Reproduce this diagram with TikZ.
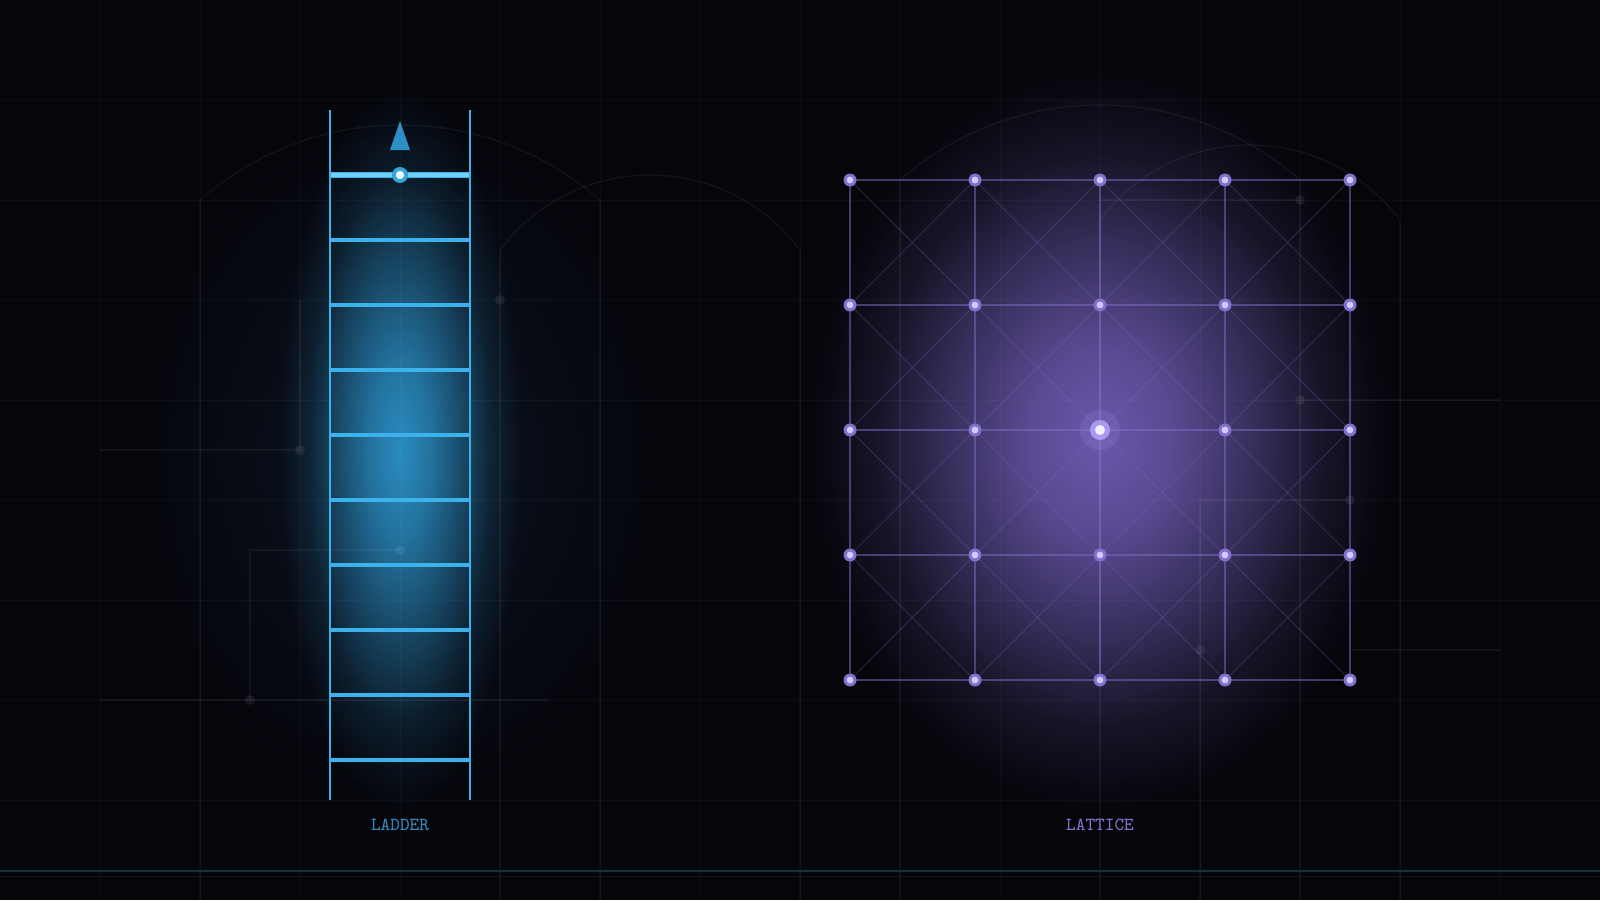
\documentclass[tikz,border=0pt]{standalone}
\usepackage{fontspec}
\usetikzlibrary{fadings}
\definecolor{bg}{HTML}{05050A}
\definecolor{ladc}{HTML}{3CB2EA}
\definecolor{ladhi}{HTML}{72D0F8}
\definecolor{ladtri}{HTML}{2E90C2}
\definecolor{ladtok}{HTML}{3AA2DA}
\definecolor{ladtokin}{HTML}{E8F8FF}
\definecolor{ladtxt}{HTML}{3A88B8}
\definecolor{latline}{HTML}{8070C8}
\definecolor{latdotc}{HTML}{8270CA}
\definecolor{latdotin}{HTML}{D2CAFF}
\definecolor{latring}{HTML}{A99AF0}
\definecolor{latcore}{HTML}{F4F0FF}
\definecolor{lattxt}{HTML}{8274CC}
\definecolor{glowb}{HTML}{2A8CC0}
\definecolor{glowp}{HTML}{6A58AC}
\definecolor{glowwide}{HTML}{0C1320}
\definecolor{botteal}{HTML}{16303E}
\definecolor{botpurp}{HTML}{15121F}
\pgfdeclareradialshading{glowmask}{\pgfpointorigin}{color(0bp)=(white); color(6bp)=(white!80!black); color(13bp)=(white!45!black); color(19bp)=(white!15!black); color(25bp)=(black); color(50bp)=(black)}
\pgfdeclarefading{glowfade}{\pgfuseshading{glowmask}}
\pgfdeclareradialshading{midmask}{\pgfpointorigin}{color(0bp)=(white); color(6bp)=(white!84!black); color(13bp)=(white!50!black); color(19bp)=(white!18!black); color(25bp)=(black); color(50bp)=(black)}
\pgfdeclarefading{midfade}{\pgfuseshading{midmask}}
\tikzset{
  gridline/.style={white, opacity=0.03, line width=0.5pt},
  archline/.style={white, opacity=0.06, line width=0.6pt},
  circline/.style={white, opacity=0.05, line width=0.6pt},
  circdot/.style={circle, fill=white, fill opacity=0.07, minimum size=5pt, inner sep=0pt},
  rail/.style={ladc, line width=1.4pt},
  rung/.style={ladc, line width=1.7pt},
  latgrid/.style={latline, opacity=0.5, line width=1pt},
  latdiag/.style={latline, opacity=0.28, line width=0.5pt},
  latdot/.style={circle, fill=latdotc, minimum size=6.5pt, inner sep=0pt},
  latdotcore/.style={circle, fill=latdotin, minimum size=3.4pt, inner sep=0pt},
  lbl/.style={font=\ttfamily\fontsize{9.2}{11}\selectfont, inner sep=0pt}
}
\begin{document}
\begin{tikzpicture}[x=0.5pt,y=-0.5pt]
\useasboundingbox (0,0) rectangle (1600,900);
\fill[bg] (0,0) rectangle (1600,900);
% glows
\fill[glowwide, path fading=glowfade] (400,460) ellipse (330 and 420);
\fill[glowb, path fading=glowfade] (400,450) ellipse (122 and 360);
\fill[glowp, path fading=midfade] (1100,440) ellipse (295 and 375);
% background grid
\foreach \x in {100,200,...,1500} \draw[gridline] (\x,0) -- (\x,900);
\foreach \y in {100,200,...,800} \draw[gridline] (0,\y) -- (1600,\y);
% arches
\draw[archline] (200,900) -- (200,200) .. controls (314,100) and (486,100) .. (600,200) -- (600,900);
\draw[archline] (500,900) -- (500,250) .. controls (575,150) and (725,150) .. (800,250) -- (800,900);
\draw[archline] (900,900) -- (900,180) .. controls (1014,80) and (1186,80) .. (1300,180) -- (1300,900);
\draw[archline] (1100,900) -- (1100,220) .. controls (1175,120) and (1325,120) .. (1400,220) -- (1400,900);
% circuit traces
\foreach \n/\x/\y in {c1/300/450,c2/250/700,c3/400/550,c4/500/300,c5/1300/200,c6/1300/400,c7/1350/500,c8/1200/650}
  \coordinate (\n) at (\x,\y);
\coordinate (t1) at (300,300); \coordinate (t2) at (100,450);
\coordinate (t3) at (100,700); \coordinate (t4) at (550,700);
\coordinate (t5) at (250,550); \coordinate (t6) at (1100,200);
\coordinate (t7) at (1500,400); \coordinate (t8) at (1200,900);
\coordinate (t9) at (1200,500); \coordinate (t10) at (1500,650);
\coordinate (t11) at (1350,650);
\draw[circline] (t1) -- (c1) -- (t2);
\draw[circline] (t3) -- (t4);
\draw[circline] (c2) -- (t5) -- (c3);
\draw[circline] (t6) -- (c5);
\draw[circline] (c6) -- (t7);
\draw[circline] (t8) -- (t9) -- (c7);
\draw[circline] (t11) -- (t10);
\foreach \n in {c1,c2,c3,c4,c5,c6,c7,c8} \node[circdot] at (\n) {};
% bottom lines
\draw[botteal, line width=1pt] (0,871) -- (1600,871);
\draw[botpurp, line width=0.75pt] (0,876.5) -- (1600,876.5);
% ===== Ladder =====
\coordinate (rlt) at (330,110); \coordinate (rlb) at (330,800);
\coordinate (rrt) at (470,110); \coordinate (rrb) at (470,800);
\foreach \i/\y in {1/240,2/305,3/370,4/435,5/500,6/565,7/630,8/695,9/760} {
  \coordinate (ra\i) at (330,\y); \coordinate (rb\i) at (470,\y);
  \draw[rung] (ra\i) -- (rb\i);
}
\coordinate (ra0) at (330,175); \coordinate (rb0) at (470,175);
\draw[ladc, line width=2.8pt] (ra0) -- (rb0);
\draw[ladhi, line width=1.6pt] (ra0) -- (rb0);
\draw[rail] (rlt) -- (rlb);
\draw[rail] (rrt) -- (rrb);
\node[circle, fill=ladtok, minimum size=8pt, inner sep=0pt] (tok) at (400,175) {};
\node[circle, fill=ladtokin, minimum size=4.2pt, inner sep=0pt] (tokin) at (tok) {};
\fill[ladtri] (400,121) -- (390,150) -- (410,150) -- cycle;
\node[lbl, text=ladtxt] (ladlbl) at (400,825) {LADDER};
% ===== Lattice =====
\foreach \i in {0,...,4} \foreach \j in {0,...,4}
  \coordinate (g-\i-\j) at ({850+125*\i},{180+125*\j});
\foreach \i in {0,...,3} \foreach \j in {0,...,3} {
  \pgfmathtruncatemacro\ii{\i+1}
  \pgfmathtruncatemacro\jj{\j+1}
  \draw[latdiag] (g-\i-\j) -- (g-\ii-\jj);
  \draw[latdiag] (g-\ii-\j) -- (g-\i-\jj);
}
\foreach \k in {0,...,4} {
  \draw[latgrid] (g-0-\k) -- (g-4-\k);
  \draw[latgrid] (g-\k-0) -- (g-\k-4);
}
\foreach \i in {0,...,4} \foreach \j in {0,...,4} {
  \ifnum\i=2 \ifnum\j=2 \else
    \node[latdot] (d-\i-\j) at (g-\i-\j) {};
    \node[latdotcore] at (d-\i-\j) {};
  \fi \else
    \node[latdot] (d-\i-\j) at (g-\i-\j) {};
    \node[latdotcore] at (d-\i-\j) {};
  \fi
}
\node[circle, fill=latring, fill opacity=0.15, minimum size=20pt, inner sep=0pt] (halo) at (g-2-2) {};
\node[circle, fill=latring, minimum size=10pt, inner sep=0pt] (d-2-2) at (g-2-2) {};
\node[circle, fill=latcore, minimum size=5pt, inner sep=0pt] (core) at (d-2-2) {};
\node[lbl, text=lattxt] (latlbl) at (1100,825) {LATTICE};
\end{tikzpicture}
\end{document}
